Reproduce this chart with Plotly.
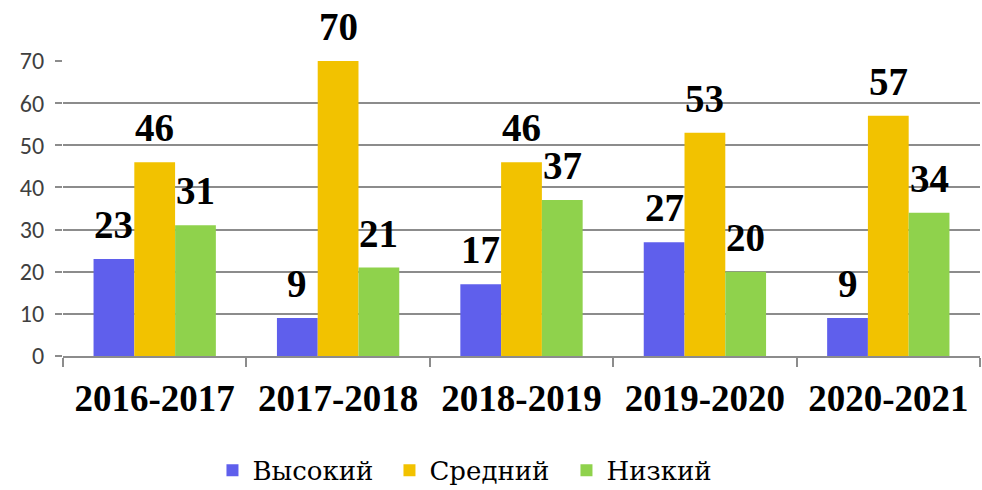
import plotly.graph_objects as go

categories = ["2016-2017", "2017-2018", "2018-2019", "2019-2020", "2020-2021"]
series_names = ["Высокий", "Средний", "Низкий"]
high = [23, 9, 17, 27, 9]
mid = [46, 70, 46, 53, 57]
low = [31, 21, 37, 20, 34]
y_ticks = [0, 10, 20, 30, 40, 50, 60, 70]

colors = ["#5f5fec", "#f2c200", "#8fd24c"]
serif = "Liberation Serif, DejaVu Serif, serif"

W, H = 982, 490
margin = dict(l=63, r=2, t=61, b=134)
bargap = 0.333

fig = go.Figure()
for name, vals, col in zip(series_names, [high, mid, low], colors):
    fig.add_trace(go.Bar(
        x=categories, y=vals, name=name,
        marker=dict(color=col, line=dict(width=0)),
    ))

# data labels as annotations above each bar
plot_w = W - margin["l"] - margin["r"]
bar_px = plot_w / len(categories) * (1 - bargap) / len(series_names)
for si, vals in enumerate([high, mid, low]):
    for cat, v in zip(categories, vals):
        fig.add_annotation(
            x=cat, y=v, xref="x", yref="y",
            text=f"<b>{v}</b>", showarrow=False,
            xshift=(si - 1) * bar_px, yshift=11,
            yanchor="bottom", xanchor="center",
            font=dict(family=serif, size=39, color="black"),
        )

fig.update_layout(
    width=W, height=H,
    margin=margin,
    barmode="group",
    bargap=bargap, bargroupgap=0,
    plot_bgcolor="white", paper_bgcolor="white",
    legend=dict(
        orientation="h", x=0.163, xanchor="left",
        yref="container", y=0.04, yanchor="middle",
        font=dict(family="DejaVu Serif, Liberation Serif, serif", size=26, color="black"),
        traceorder="normal",
        entrywidth=132, entrywidthmode="pixels",
    ),
)
fig.update_xaxes(
    showline=True, linecolor="#8c8c8c", linewidth=2,
    ticks="outside", tickson="boundaries", ticklen=9, tickcolor="#8c8c8c", tickwidth=2,
    tickfont=dict(family=serif, size=37, color="black", weight="bold"),
    ticklabelstandoff=9,
)
fig.update_yaxes(
    range=[0, 70], tickvals=y_ticks,
    showgrid=True, gridcolor="#8c8c8c", gridwidth=2,
    showline=False,
    ticks="outside", ticklen=7, tickcolor="#8c8c8c", tickwidth=2,
    tickfont=dict(family="Carlito, Open Sans, sans-serif", size=24, color="#404040"),
    ticklabelstandoff=6,
    zeroline=False,
)

fig.write_html("out.html")
